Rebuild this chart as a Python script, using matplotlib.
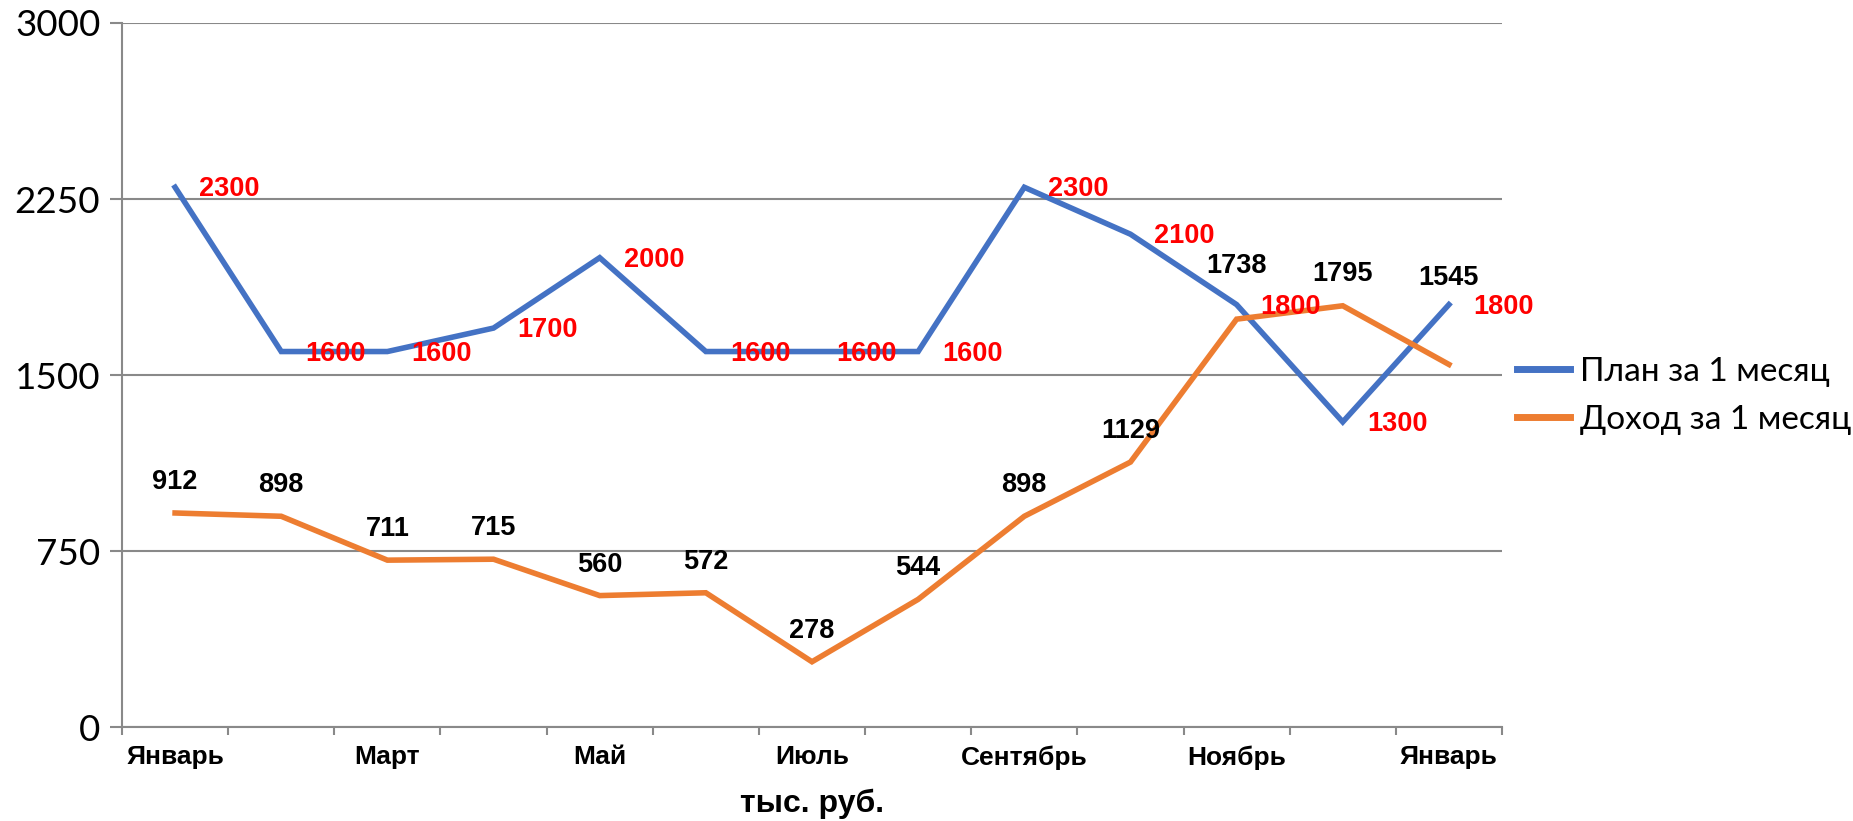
import numpy as np
import matplotlib
matplotlib.use("Agg")
import matplotlib.pyplot as plt
from matplotlib.ticker import FixedLocator

# ---- data ----
months = ["Январь", "Февраль", "Март", "Апрель", "Май", "Июнь", "Июль",
          "Август", "Сентябрь", "Октябрь", "Ноябрь", "Декабрь", "Январь"]
plan = [2300, 1600, 1600, 1700, 2000, 1600, 1600, 1600, 2300, 2100, 1800, 1300, 1800]
income = [912, 898, 711, 715, 560, 572, 278, 544, 898, 1129, 1738, 1795, 1545]
plan_name = "План за 1 месяц"
income_name = "Доход за 1 месяц"
y_ticks = [0, 750, 1500, 2250, 3000]
x_title = "тыс. руб."

# label lift (pixels above the point) for the income labels
income_lift = [24, 24, 24, 24, 24, 24, 24, 24, 24, 24, 46, 25, 79]

BLUE = "#4472C4"
ORANGE = "#ED7D31"
GRID = "#898989"
BOLD = ["Liberation Sans", "DejaVu Sans"]
CAL = ["Lato", "Open Sans", "DejaVu Sans"]

W, H = 1853, 821
fig = plt.figure(figsize=(W / 100, H / 100), dpi=100)
ax = fig.add_axes([122 / W, 1 - 727 / H, (1502 - 122) / W, (727 - 23) / H])

x = np.arange(len(months))
ax.plot(x, plan, color=BLUE, lw=4.0, solid_joinstyle="miter", label=plan_name, zorder=3)
ax.plot(x, income, color=ORANGE, lw=4.0, solid_joinstyle="miter", label=income_name, zorder=3)

ax.set_xlim(-0.5, len(months) - 0.5)
ax.set_ylim(0, 3000)

# y axis
ax.set_yticks(y_ticks)
ax.set_yticklabels([str(v) for v in y_ticks], family=CAL, fontsize=26.5)
ax.yaxis.grid(True, color=GRID, lw=1.5)
ax.set_axisbelow(True)
ax.tick_params(axis="y", length=8.6, width=1.5, color=GRID, pad=7)

# x axis: labels at every second category centre, ticks at boundaries
ax.xaxis.set_major_locator(FixedLocator(x[::2]))
ax.set_xticklabels(months[::2], family=BOLD, fontsize=19, fontweight="bold")
ax.xaxis.set_minor_locator(FixedLocator(np.arange(-0.5, len(months), 1.0)))
ax.tick_params(axis="x", which="major", length=0, pad=13)
ax.tick_params(axis="x", which="minor", length=6, width=1.5, color=GRID)

for s in ["top", "right"]:
    ax.spines[s].set_visible(False)
for s in ["left", "bottom"]:
    ax.spines[s].set_color(GRID)
    ax.spines[s].set_linewidth(1.5)

# data labels
for xi, v in zip(x, plan):
    ax.annotate(str(v), (xi, v), xytext=(24, -9.2), textcoords="offset pixels",
                ha="left", va="baseline", color="#FF0000", fontsize=19.5,
                fontweight="bold", family=BOLD, zorder=4)
for xi, v, lift in zip(x, income, income_lift):
    ax.annotate(str(v), (xi, v), xytext=(0, lift), textcoords="offset pixels",
                ha="center", va="baseline", color="black", fontsize=19.5,
                fontweight="bold", family=BOLD, zorder=4)

# axis title
fig.text(812 / W, 1 - 804 / H, x_title, ha="center", va="center",
         fontsize=23, fontweight="bold", family=BOLD)

# legend
leg = fig.legend(loc="center left", bbox_to_anchor=(1517 / W, 1 - 396 / H),
                 bbox_transform=fig.transFigure, frameon=False, borderpad=0,
                 borderaxespad=0, handlelength=1.6, handletextpad=0.3,
                 labelspacing=0.55, prop={"family": CAL, "size": 24})
for h in leg.get_lines():
    h.set_linewidth(5)

fig.savefig("out.png", dpi=100)
